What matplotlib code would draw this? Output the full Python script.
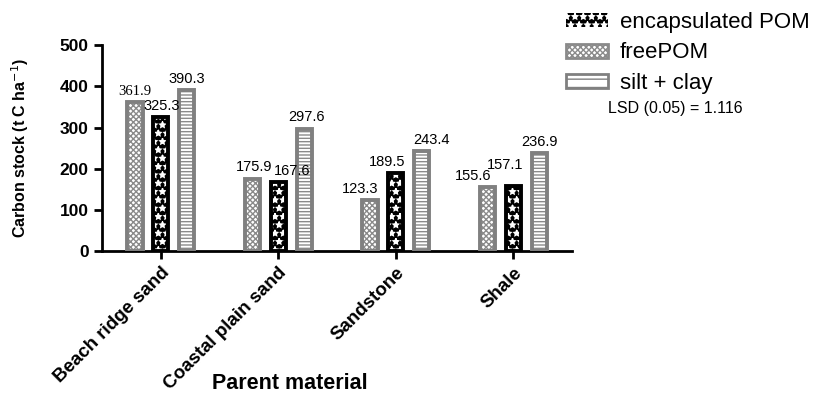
import matplotlib.pyplot as plt
import numpy as np
from matplotlib.patches import Patch

plt.rcParams['font.family'] = ['Liberation Sans', 'DejaVu Sans']

materials = ['Beach ridge sand', 'Coastal plain sand', 'Sandstone', 'Shale']
free_pom = [361.9, 175.9, 123.3, 155.6]
encap_pom = [325.3, 167.6, 189.5, 157.1]
silt_clay = [390.3, 297.6, 243.4, 236.9]

# label nudges (points) so the numbers sit roughly where the original has them
free_nudge = [(0, 3), (1, 3), (-7, 3), (-10, 3)]
encap_nudge = [(1, 3), (10, 3), (-6, 3), (-6, 10)]
silt_nudge = [(0, 3), (2, 3), (7, 3), (0, 3)]

fig = plt.figure(figsize=(8.34, 3.96), dpi=100)
ax = fig.add_axes([0.1223, 0.366, 0.5637, 0.52])

x = np.arange(len(materials))
w = 0.13
off = 0.22

# (values, offset, face, hatch colour, hatch, edge)
series = [
    (free_pom, -off, 'white', '#8a8a8a', 'xxxxxx', '#808080'),
    (encap_pom, 0.0, 'black', 'white', '**', 'black'),
    (silt_clay, off, 'white', '#8a8a8a', '-----', '#808080'),
]
for vals, dx, face, hcol, hatch, edge in series:
    ax.bar(x + dx, vals, w, color=face, edgecolor=hcol, hatch=hatch, linewidth=0, zorder=2)
    ax.bar(x + dx, vals, w, fill=False, edgecolor=edge, linewidth=2.8, zorder=3)

for i in range(len(materials)):
    ax.annotate(f'{free_pom[i]:.1f}', (x[i] - off, free_pom[i]), xytext=free_nudge[i],
                textcoords='offset points', ha='center', va='bottom', fontsize=10.5,
                family='Liberation Serif' if i == 0 else 'Liberation Sans', zorder=4)
    ax.annotate(f'{encap_pom[i]:.1f}', (x[i], encap_pom[i]), xytext=encap_nudge[i],
                textcoords='offset points', ha='center', va='bottom', fontsize=10.5, zorder=4)
    ax.annotate(f'{silt_clay[i]:.1f}', (x[i] + off, silt_clay[i]), xytext=silt_nudge[i],
                textcoords='offset points', ha='center', va='bottom', fontsize=10.5, zorder=4)

ax.set_xlim(-0.5, 3.5)
ax.set_ylim(0, 500)
ax.set_yticks([0, 100, 200, 300, 400, 500])
ax.set_xticks(x)
ax.set_xticklabels(materials, rotation=45, ha='right', rotation_mode='anchor',
                   fontsize=13.5, fontweight='bold')
for lab in ax.get_yticklabels():
    lab.set_fontweight('bold')
    lab.set_fontsize(12.5)
ax.tick_params(axis='both', width=2, length=6, direction='out')
for s in ['top', 'right']:
    ax.spines[s].set_visible(False)
for s in ['left', 'bottom']:
    ax.spines[s].set_linewidth(2)

ax.set_ylabel('Carbon stock (t C ha$^{-1}$)', fontsize=11.5, fontweight='bold')
ax.yaxis.set_label_coords(-0.15, 0.5)
ax.set_xlabel('Parent material', fontsize=15.5, fontweight='bold')
ax.xaxis.set_label_coords(0.40, -0.59)

handles = [
    Patch(facecolor='black', edgecolor='white', hatch='**', linewidth=0),
    Patch(facecolor='white', edgecolor='#8a8a8a', hatch='xxxxxx', linewidth=2),
    Patch(facecolor='white', edgecolor='#808080', hatch='--', linewidth=2),
]
fig.legend(handles, ['encapsulated POM', 'freePOM', 'silt + clay'],
           loc='upper left', bbox_to_anchor=(0.655, 1.02), frameon=False,
           fontsize=16, handlelength=1.9, handleheight=0.6, labelspacing=0.42,
           handletextpad=0.5)
fig.text(0.729, 0.727, 'LSD (0.05) = 1.116', fontsize=11.5, va='center')

fig.savefig('out.png', dpi=100)
